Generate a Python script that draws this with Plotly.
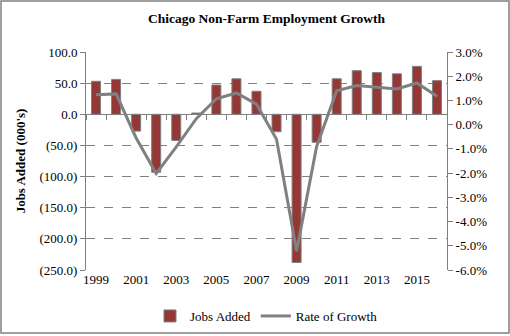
import plotly.graph_objects as go

years = list(range(1999, 2017))
jobs_added = [53, 56, -27, -93, -42, 2, 47, 57, 37, -28, -238, -45, 57, 70, 67, 65, 77, 54]
rate_growth = [1.24, 1.27, -0.55, -2.02, -0.92, 0.25, 1.07, 1.31, 0.85, -0.6, -5.22, -0.9, 1.4, 1.62, 1.54, 1.47, 1.72, 1.17]

left_ticks = [100, 50, 0, -50, -100, -150, -200, -250]
left_text = ["100.0", "50.0", "0.0", "(50.0)", "(100.0)", "(150.0)", "(200.0)", "(250.0)"]
right_ticks = [3, 2, 1, 0, -1, -2, -3, -4, -5, -6]
right_text = ["3.0%", "2.0%", "1.0%", "0.0%", "-1.0%", "-2.0%", "-3.0%", "-4.0%", "-5.0%", "-6.0%"]
x_labels = [1999, 2001, 2003, 2005, 2007, 2009, 2011, 2013, 2015]

FONT = "Liberation Serif"
GRAY = "#808080"

fig = go.Figure()
fig.add_trace(go.Bar(
    x=years, y=jobs_added, name="Jobs Added", width=0.45,
    marker=dict(color="#953735", line=dict(color=GRAY, width=1)),
    xaxis="x", yaxis="y",
))
fig.add_trace(go.Scatter(
    x=years, y=rate_growth, name="Rate of Growth", mode="lines",
    line=dict(color=GRAY, width=3),
    xaxis="x", yaxis="y2",
))

yr = [-250, 100]
zero_pos = (0 - yr[0]) / (yr[1] - yr[0])

W, H = 510, 336
ML, MR, MT, MB = 86, 63, 52, 66
pw, ph = W - ML - MR, H - MT - MB

fig.update_layout(
    width=W, height=H,
    margin=dict(l=ML, r=MR, t=MT, b=MB, autoexpand=False),
    paper_bgcolor="white", plot_bgcolor="white",
    font=dict(family=FONT, size=13, color="black"),
    title=dict(text="<b>Chicago Non-Farm Employment Growth</b>", x=0.5, xanchor="center",
               xref="paper", y=1 - 18 / H, yanchor="middle", font=dict(size=13.5)),
    showlegend=True,
    legend=dict(orientation="h", x=0.5, xanchor="center", y=-(316 - 270) / ph, yanchor="middle",
                font=dict(size=13), itemwidth=30, traceorder="normal"),
    xaxis=dict(range=[1998.5, 2016.5], tickvals=x_labels, ticktext=[str(v) for v in x_labels],
               showline=False, showgrid=False, zeroline=False, ticks="",
               tickfont=dict(size=13)),
    xaxis2=dict(range=[1998.5, 2016.5], overlaying="x", anchor="free", position=zero_pos,
                showline=True, linecolor=GRAY, linewidth=1, ticks="outside",
                tickmode="linear", tick0=1998.5, dtick=1, ticklen=5, tickcolor=GRAY,
                showticklabels=False, showgrid=False, zeroline=False, side="bottom"),
    yaxis=dict(range=yr, tickvals=left_ticks, ticktext=left_text,
               showline=True, linecolor=GRAY, linewidth=1, ticks="outside", ticklen=5,
               tickcolor=GRAY, showgrid=True, gridcolor=GRAY, griddash="dash", gridwidth=1,
               zeroline=False,
               title=dict(text="<b>Jobs Added (000's)</b>", font=dict(size=13), standoff=10)),
    yaxis2=dict(range=[-6, 3], overlaying="y", side="right", tickvals=right_ticks,
                ticktext=right_text, showline=True, linecolor=GRAY, linewidth=1,
                ticks="outside", ticklen=5, tickcolor=GRAY, showgrid=False, zeroline=False),
)

# helper invisible trace so xaxis2 is drawn
fig.add_trace(go.Scatter(x=[years[0]], y=[0], xaxis="x2", yaxis="y", mode="markers",
                         marker=dict(opacity=0), showlegend=False, hoverinfo="skip"))

fig.add_shape(type="rect", xref="paper", yref="paper",
              x0=(1 - ML) / pw, x1=(509 - ML) / pw,
              y0=(H - MB - 333) / ph, y1=(H - MB - 1) / ph,
              line=dict(color=GRAY, width=1.5), fillcolor="rgba(0,0,0,0)", layer="below")

fig.write_html("out.html")
